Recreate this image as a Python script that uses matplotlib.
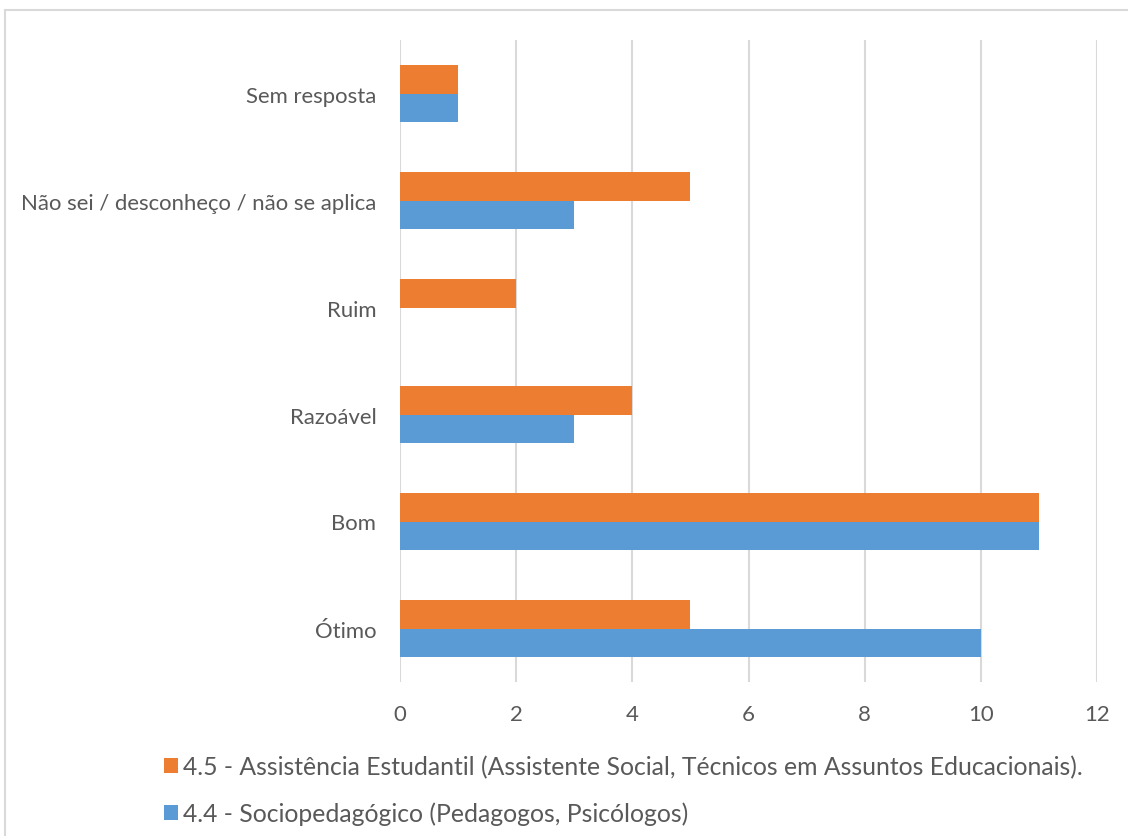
import matplotlib
matplotlib.use("Agg")
import matplotlib.pyplot as plt
import numpy as np
from matplotlib.patches import Patch, Rectangle

categories = ["Ótimo", "Bom", "Razoável", "Ruim",
              "Não sei / desconheço / não se aplica", "Sem resposta"]
assistencia = [5, 11, 4, 2, 5, 1]
sociopedagogico = [10, 11, 3, 0, 3, 1]
label_assist = "4.5 - Assistência Estudantil (Assistente Social, Técnicos em Assuntos Educacionais)."
label_socio = "4.4 - Sociopedagógico (Pedagogos, Psicólogos)"
xticks = [0, 2, 4, 6, 8, 10, 12]

ORANGE = "#ED7D31"
BLUE = "#5B9BD5"
TEXT = "#595959"
GRID = "#D9D9D9"

plt.rcParams['font.family'] = ['Lato', 'DejaVu Sans']

W, H = 1128, 837
fig = plt.figure(figsize=(W / 100, H / 100), dpi=100)

# outer chart border
fig.patches.append(Rectangle((5 / W, -0.01), 1.02, 1 - 11 / H + 0.01,
                             transform=fig.transFigure, fill=False,
                             edgecolor="#D9D9D9", linewidth=1.5))

ax = fig.add_axes([400 / W, 1 - 683 / H, 697 / W, 642 / H])

y = np.arange(len(categories))
bh = 0.262
ax.barh(y + bh / 2, assistencia, height=bh, color=ORANGE, zorder=3)
ax.barh(y - bh / 2, sociopedagogico, height=bh, color=BLUE, zorder=3)

ax.set_xlim(0, 12)
ax.set_ylim(-0.5, len(categories) - 0.5)
ax.set_xticks(xticks)
ax.set_yticks(y)
ax.set_yticklabels(categories)
ax.xaxis.grid(True, color=GRID, linewidth=1.5, zorder=0)
ax.set_axisbelow(True)
for s in ax.spines.values():
    s.set_visible(False)
ax.tick_params(axis="both", length=0, labelsize=15.9, colors=TEXT)
ax.tick_params(axis="y", pad=17)
ax.tick_params(axis="x", pad=15.5)

handles = [Patch(facecolor=ORANGE, label=label_assist),
           Patch(facecolor=BLUE, label=label_socio)]
fig.legend(handles=handles, loc="upper left",
           bbox_to_anchor=(164 / W, 1 - 756 / H), frameon=False,
           fontsize=17.8, labelcolor=TEXT, handlelength=0.55,
           handleheight=0.55, handletextpad=0.22, labelspacing=0.95,
           borderaxespad=0, borderpad=0)

fig.savefig("out.png", dpi=100)
